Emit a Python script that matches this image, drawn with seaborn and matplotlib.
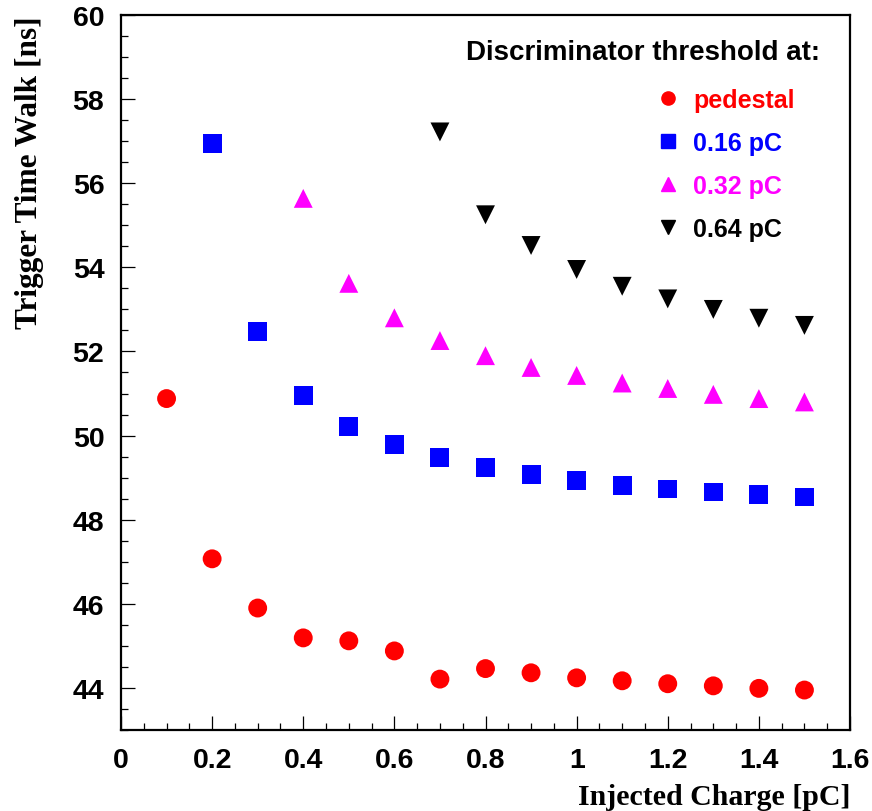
import matplotlib
matplotlib.use("Agg")
import matplotlib.pyplot as plt
from matplotlib.lines import Line2D
from matplotlib.ticker import MultipleLocator
import numpy as np
import pandas as pd
import seaborn as sns

# Injected charge [pC] for each threshold setting
charge_pedestal = [0.1, 0.2, 0.3, 0.4, 0.5, 0.6, 0.7, 0.8, 0.9, 1.0, 1.1, 1.2, 1.3, 1.4, 1.5]
walk_pedestal = [50.88, 47.07, 45.90, 45.19, 45.12, 44.88, 44.21, 44.46, 44.36, 44.24,
                 44.17, 44.10, 44.05, 43.99, 43.95]

charge_016 = [0.2, 0.3, 0.4, 0.5, 0.6, 0.7, 0.8, 0.9, 1.0, 1.1, 1.2, 1.3, 1.4, 1.5]
walk_016 = [56.95, 52.48, 50.95, 50.21, 49.79, 49.47, 49.25, 49.07, 48.93, 48.81,
            48.73, 48.66, 48.59, 48.54]

charge_032 = [0.4, 0.5, 0.6, 0.7, 0.8, 0.9, 1.0, 1.1, 1.2, 1.3, 1.4, 1.5]
walk_032 = [55.64, 53.62, 52.80, 52.26, 51.90, 51.62, 51.43, 51.25, 51.12, 50.98, 50.88, 50.80]

charge_064 = [0.7, 0.8, 0.9, 1.0, 1.1, 1.2, 1.3, 1.4, 1.5]
walk_064 = [57.22, 55.25, 54.52, 53.95, 53.55, 53.25, 53.00, 52.79, 52.62]

series_labels = ["pedestal", "0.16 pC", "0.32 pC", "0.64 pC"]
series_colors = ["#ff0000", "#0000ff", "#ff00ff", "#000000"]
series_markers = ["o", "s", "^", "v"]

legend_title = "Discriminator threshold at:"
x_label = "Injected Charge [pC]"
y_label = "Trigger Time Walk [ns]"

frames = []
for lab, xs, ys in zip(series_labels,
                       [charge_pedestal, charge_016, charge_032, charge_064],
                       [walk_pedestal, walk_016, walk_032, walk_064]):
    frames.append(pd.DataFrame({"charge": xs, "walk": ys, "threshold": lab}))
df = pd.concat(frames, ignore_index=True)

sns.set_style("white")
plt.rcParams["font.family"] = ["Liberation Sans", "DejaVu Sans"]

fig = plt.figure(figsize=(8.72, 8.12), dpi=100)
ax = fig.add_axes([121 / 872, 1 - 731 / 812, (850 - 121) / 872, (731 - 16) / 812])

palette = dict(zip(series_labels, series_colors))
markers = dict(zip(series_labels, series_markers))
sns.scatterplot(data=df, x="charge", y="walk", hue="threshold", style="threshold",
                palette=palette, markers=markers, s=185, linewidth=0,
                legend=False, ax=ax)

ax.set_xlim(0, 1.6)
ax.set_ylim(43, 60)
ax.xaxis.set_minor_locator(MultipleLocator(0.05))
ax.yaxis.set_minor_locator(MultipleLocator(0.5))
ax.set_xticks(np.arange(0, 1.61, 0.2))
ax.set_xticklabels(["0", "0.2", "0.4", "0.6", "0.8", "1", "1.2", "1.4", "1.6"])
ax.set_yticks(np.arange(44, 60.1, 2))
ax.set_yticklabels([str(v) for v in range(44, 61, 2)])

ax.tick_params(which="both", direction="in", top=False, right=False,
               bottom=True, left=True, color="black", width=0.9)
ax.tick_params(which="major", length=10, pad=12, labelsize=20.5, labelcolor="black")
ax.tick_params(which="minor", length=5)
for lbl in ax.get_xticklabels() + ax.get_yticklabels():
    lbl.set_fontweight("bold")

for sp in ax.spines.values():
    sp.set_visible(True)
    sp.set_color("black")
    sp.set_linewidth(1.6)

ax.set_xlabel(x_label, loc="right", fontsize=21.5, fontweight="bold",
              family=["Liberation Serif", "DejaVu Serif"], labelpad=7.5, color="black")
ax.set_ylabel(y_label, loc="top", fontsize=22.5, fontweight="bold",
              family=["Liberation Serif", "DejaVu Serif"], labelpad=20.5, color="black")

# Legend: title line plus coloured entries
ax.text(0.959, 0.948, legend_title, transform=ax.transAxes, ha="right", va="center",
        fontsize=20, fontweight="bold", color="black")
handles = [Line2D([], [], linestyle="none", marker=m, color=c, markersize=9.5)
           for m, c in zip(series_markers, series_colors)]
leg = ax.legend(handles, series_labels, loc="upper left",
                bbox_to_anchor=(658 / 872, 1 - 89 / 812), bbox_transform=fig.transFigure,
                frameon=False, fontsize=18, labelcolor=series_colors,
                handlelength=0.8, handletextpad=0.6, labelspacing=0.76, borderpad=0,
                borderaxespad=0)
for t in leg.get_texts():
    t.set_fontweight("bold")

fig.savefig("out.png", dpi=100, facecolor="white")
